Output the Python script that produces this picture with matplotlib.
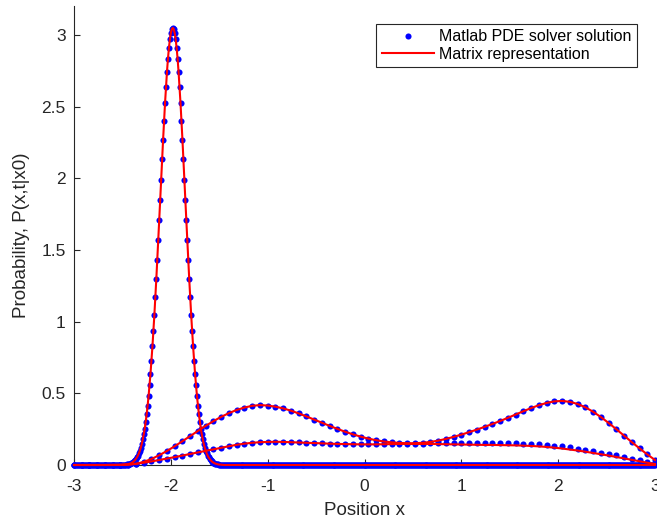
import numpy as np
import matplotlib
matplotlib.use('Agg')
import matplotlib.pyplot as plt

# fine mesh curve (narrow peak at x0 = -2), values read from -2.50 to -1.46, zero elsewhere
peak_start = -2.50
peak_vals = [
    0.001, 0.001, 0.002, 0.003, 0.003, 0.004, 0.006, 0.008, 0.010, 0.013,
    0.017, 0.021, 0.027, 0.034, 0.043, 0.053, 0.066, 0.081, 0.100, 0.122,
    0.147, 0.178, 0.213, 0.253, 0.300, 0.353, 0.413, 0.480, 0.555, 0.638,
    0.728, 0.827, 0.934, 1.048, 1.169, 1.297, 1.430, 1.567, 1.708, 1.850,
    1.992, 2.132, 2.269, 2.400, 2.524, 2.638, 2.742, 2.833, 2.909, 2.970,
    3.014, 3.041, 3.050,
    3.041, 3.014, 2.970, 2.909, 2.833, 2.742, 2.638, 2.524, 2.400, 2.269,
    2.132, 1.992, 1.850, 1.708, 1.567, 1.430, 1.297, 1.169, 1.048, 0.934,
    0.827, 0.728, 0.638, 0.555, 0.480, 0.413, 0.353, 0.300, 0.253, 0.213,
    0.178, 0.147, 0.122, 0.100, 0.081, 0.066, 0.053, 0.043, 0.034, 0.027,
    0.021, 0.017, 0.013, 0.010, 0.008, 0.006, 0.004, 0.003, 0.003, 0.002,
    0.001, 0.001,
]

# coarse mesh curves, x = -3 : 0.08 : 3
mid_vals = [
    0, 0, 0, 0, 0, 0.001, 0.001, 0.003,
    0.008, 0.022, 0.042, 0.068, 0.098, 0.131, 0.166, 0.202,
    0.238, 0.273, 0.306, 0.336, 0.362, 0.384, 0.401, 0.413,
    0.418, 0.415, 0.407, 0.395, 0.379, 0.360, 0.339, 0.317,
    0.295, 0.273, 0.252, 0.232, 0.214, 0.198, 0.184, 0.173,
    0.164, 0.158, 0.154, 0.152, 0.152, 0.155, 0.161, 0.170,
    0.182, 0.196, 0.212, 0.229, 0.247, 0.266, 0.286, 0.307,
    0.329, 0.352, 0.375, 0.397, 0.417, 0.433, 0.444, 0.447,
    0.441, 0.426, 0.403, 0.372, 0.335, 0.294, 0.250, 0.205,
    0.160, 0.116, 0.074, 0.035,
]

late_pde = [
    0, 0, 0, 0, 0, 0, 0.001, 0.003,
    0.008, 0.016, 0.025, 0.035, 0.045, 0.055, 0.066, 0.077,
    0.088, 0.099, 0.109, 0.120, 0.131, 0.141, 0.149, 0.155,
    0.159, 0.161, 0.162, 0.161, 0.159, 0.157, 0.155, 0.153,
    0.151, 0.149, 0.147, 0.146, 0.145, 0.144, 0.144, 0.144,
    0.145, 0.146, 0.147, 0.148, 0.149, 0.150, 0.151, 0.152,
    0.152, 0.153, 0.153, 0.153, 0.153, 0.153, 0.153, 0.153,
    0.152, 0.151, 0.150, 0.148, 0.145, 0.141, 0.136, 0.130,
    0.123, 0.115, 0.106, 0.097, 0.087, 0.077, 0.067, 0.056,
    0.045, 0.034, 0.023, 0.012,
]

late_matrix = [
    0, 0, 0, 0, 0, 0, 0.001, 0.003,
    0.008, 0.016, 0.025, 0.035, 0.045, 0.055, 0.066, 0.077,
    0.088, 0.099, 0.109, 0.120, 0.131, 0.141, 0.149, 0.155,
    0.159, 0.161, 0.162, 0.161, 0.159, 0.157, 0.155, 0.153,
    0.151, 0.149, 0.147, 0.146, 0.145, 0.144, 0.144, 0.144,
    0.145, 0.146, 0.147, 0.147, 0.147, 0.147, 0.147, 0.146,
    0.145, 0.144, 0.143, 0.142, 0.141, 0.140, 0.140, 0.139,
    0.138, 0.137, 0.135, 0.133, 0.130, 0.126, 0.121, 0.115,
    0.108, 0.101, 0.093, 0.084, 0.075, 0.066, 0.056, 0.046,
    0.036, 0.026, 0.016, 0.007,
]

x_ticks = [-3, -2, -1, 0, 1, 2, 3]
y_ticks = [0, 0.5, 1, 1.5, 2, 2.5, 3]

TXT = (0.15, 0.15, 0.15)


def main():
    x_fine = np.round(np.arange(601) * 0.01 - 3, 2)
    y_fine = np.zeros(len(x_fine))
    i0 = int(round((peak_start + 3) / 0.01))
    y_fine[i0:i0 + len(peak_vals)] = peak_vals

    x_coarse = np.linspace(-3, 3, len(mid_vals))

    plt.rcParams['font.family'] = ['Liberation Sans', 'DejaVu Sans']
    fig = plt.figure(figsize=(6.57, 5.22), dpi=100)
    ax = fig.add_axes([74 / 657, 57 / 522, 581 / 657, 458.6 / 522])

    dot = dict(linestyle='none', marker='o', ms=4.4, mfc=(0, 0, 1), mec='none', clip_on=False, zorder=3)
    line = dict(color=(1, 0, 0), lw=1.5, clip_on=False, zorder=4)

    ax.plot(x_fine, y_fine, **dot, label='Matlab PDE solver solution')
    ax.plot(x_coarse, mid_vals, **dot)
    ax.plot(x_coarse, late_pde, **dot)
    ax.plot(x_fine, y_fine, **line, label='Matrix representation')
    ax.plot(x_coarse, mid_vals, **line)
    ax.plot(x_coarse, late_matrix, **line)

    ax.set_xlim(-3, 3)
    ax.set_ylim(0, 3.2)
    ax.set_xticks(x_ticks)
    ax.set_xticklabels([str(v) for v in x_ticks])
    ax.set_yticks(y_ticks)
    ax.set_yticklabels(['0', '0.5', '1', '1.5', '2', '2.5', '3'])
    ax.tick_params(direction='in', length=4, width=0.8, colors=TXT, labelsize=12.5, pad=6)
    ax.tick_params(axis='x', pad=10)
    for s in ['top', 'right']:
        ax.spines[s].set_visible(False)
    for s in ['left', 'bottom']:
        ax.spines[s].set_color(TXT)
        ax.spines[s].set_linewidth(0.8)

    ax.set_xlabel('Position x', fontsize=13.5, color=TXT, labelpad=6)
    ax.set_ylabel('Probability, P(x,t|x0)', fontsize=13.5, color=TXT, labelpad=8)

    leg = ax.legend(loc='upper right', bbox_to_anchor=(0.969, 0.962), fontsize=11.5,
                    frameon=True, fancybox=False, edgecolor=TXT, framealpha=1,
                    handlelength=3.3, handletextpad=0.3, borderpad=0.35, labelspacing=0.15,
                    borderaxespad=0)
    leg.get_frame().set_linewidth(0.8)
    for t in leg.get_texts():
        t.set_color('black')

    fig.savefig('out.png', dpi=100)


if __name__ == "__main__":
    main()
